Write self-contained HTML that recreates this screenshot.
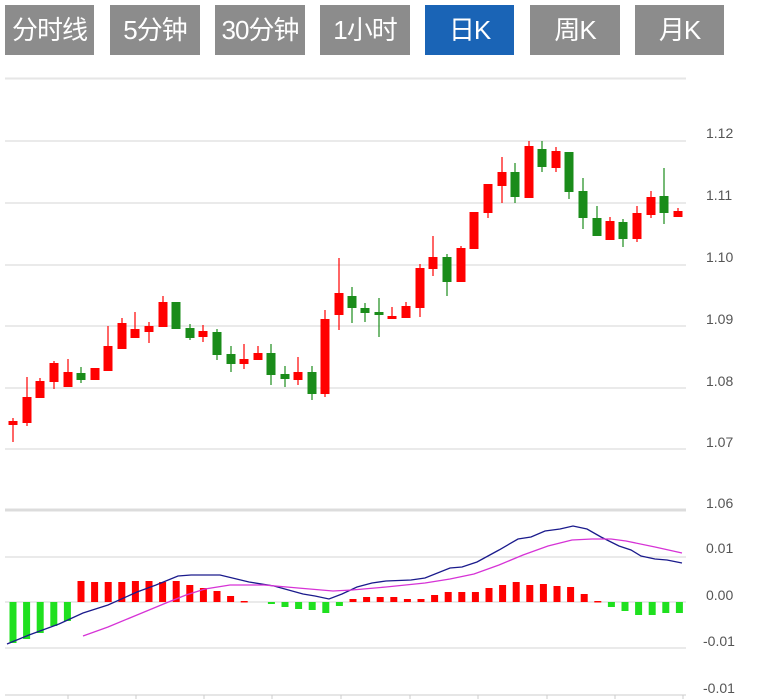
<!DOCTYPE html>
<html><head><meta charset="utf-8"><style>
body{margin:0;background:#fff;width:761px;height:699px;overflow:hidden;position:relative;font-family:"Liberation Sans","Noto Sans CJK SC",sans-serif}
.b{position:absolute;top:5px;height:50px;background:#8c8c8c;color:#fff;font-size:26px;line-height:50px;text-align:center;letter-spacing:-1px}
.b.on{background:#1a64b6}
svg{position:absolute;left:0;top:0}
</style></head><body>
<div class="b" style="left:5px;width:89px">分时线</div>
<div class="b" style="left:110px;width:90px">5分钟</div>
<div class="b" style="left:215px;width:90px">30分钟</div>
<div class="b" style="left:320px;width:90px">1小时</div>
<div class="b on" style="left:425px;width:89px">日K</div>
<div class="b" style="left:530px;width:90px">周K</div>
<div class="b" style="left:635px;width:89px">月K</div>
<svg id="s" width="761" height="699" xmlns="http://www.w3.org/2000/svg"></svg>
<script>
var s='';
s+='<line x1="5" y1="78.5" x2="686" y2="78.5" stroke="#e6e6e6" stroke-width="2"/>';
[141,203,265,326,388,449].forEach(function(y){s+='<line x1="5" y1="'+y+'" x2="686" y2="'+y+'" stroke="#d4d4d4" stroke-width="1"/>';});
s+='<line x1="5" y1="510" x2="686" y2="510" stroke="#dcdcdc" stroke-width="3"/>';
[557,602,648].forEach(function(y){s+='<line x1="5" y1="'+y+'" x2="686" y2="'+y+'" stroke="#d4d4d4" stroke-width="1"/>';});
s+='<line x1="5" y1="695" x2="686" y2="695" stroke="#ccc" stroke-width="1"/>';
[68,136,204,272,341,410,478,547,615,683].forEach(function(x){s+='<line x1="'+x+'" y1="695" x2="'+x+'" y2="699" stroke="#ccc"/>';});
[['1.12',138],['1.11',200],['1.10',262],['1.09',324],['1.08',386],['1.07',447],['1.06',508],['0.01',553],['0.00',600],['-0.01',646],['-0.01',693]].forEach(function(l){
s+='<text x="'+(l[0][0]=='-'?703:706)+'" y="'+l[1]+'" font-size="14" fill="#555" font-family="Liberation Sans,sans-serif">'+l[0]+'</text>';});
// candles: [x, bodyTop, bodyBot, wickTop, wickBot, red?]
var c=[[13,421,425,418,442,1],[27,397,423,377,426,1],[40,381,398,378,398,1],[54,363,382,361,389,1],[68,372,387,359,387,1],[81,373,380,367,383,0],[95,368,380,368,380,1],[108,346,371,326,371,1],[122,323,349,318,349,1],[135,329,338,312,338,1],[149,326,332,322,343,1],[163,302,327,296,327,1],[176,302,329,302,329,0],[190,328,338,324,340,0],[203,331,337,325,342,1],[217,332,355,329,360,0],[231,354,364,346,372,0],[244,359,364,344,369,1],[258,353,360,346,360,1],[271,353,375,344,385,0],[285,374,379,366,387,0],[298,372,380,357,385,1],[312,372,394,366,400,0],[325,319,394,310,397,1],[339,293,315,258,330,1],[352,296,308,287,323,0],[365,308,313,303,322,0],[379,312,315,298,337,0],[392,316,319,307,319,1],[406,306,318,302,318,1],[420,268,308,264,317,1],[433,257,269,236,276,1],[447,257,282,254,296,0],[461,248,282,246,282,1],[474,212,249,212,249,1],[488,184,213,184,218,1],[502,172,186,157,203,1],[515,172,197,163,203,0],[529,146,198,141,198,1],[542,149,167,141,172,0],[556,151,168,147,172,1],[569,152,192,152,199,0],[583,191,218,178,229,0],[597,218,236,206,236,0],[610,221,240,217,240,1],[623,222,239,219,247,0],[637,213,239,206,242,1],[651,197,215,191,218,1],[664,196,213,168,224,0],[678,211,217,208,217,1]];
c.forEach(function(k){var col=k[5]?'#f00':'#1a8c1a';
s+='<line x1="'+k[0]+'" y1="'+k[3]+'" x2="'+k[0]+'" y2="'+k[4]+'" stroke="'+col+'" stroke-width="1.2"/>';
s+='<rect x="'+(k[0]-4.5)+'" y="'+k[1]+'" width="9" height="'+Math.max(2,k[2]-k[1])+'" fill="'+col+'"/>';});
// histogram tops
var h=[643,639,633,626,621,581,582,582,582,581,581,582,581,585,588,591,596,601,602,604,607,609,610,613,606,599,597,597,597,599,599,595,592,592,592,588,585,582,585,584,586,587,594,601,607,611,615,615,613,613];
h.forEach(function(y,i){var x=13+13.6*i;if(Math.abs(y-602)<0.5)return;var t=Math.min(y,602),hh=Math.abs(y-602);
s+='<rect x="'+(x-3.5)+'" y="'+t+'" width="7" height="'+Math.max(1.5,hh)+'" fill="'+(y<602?'#f00':'#1fe01f')+'"/>';});
s+='<polyline fill="none" stroke="#1a1a8c" stroke-width="1.3" points="7,644 29,635 59,624 83,613 108,605 137,592 156,585 178,576 191,575 220,575 249,582 274,586 303,594 315,596 329,599 342,594 357,587 372,583 386,581 411,580 425,578 450,568 462,567 477,562 499,550 518,539 531,537 545,531 560,529 573,526 587,529 601,537 619,546 631,550 641,556 655,559 667,560 682,563"/>';
s+='<polyline fill="none" stroke="#d633d6" stroke-width="1.3" points="83,636 108,627 137,615 166,603 186,595 205,589 230,585 264,585 298,588 333,591 352,590 386,587 425,583 450,579 474,574 499,565 523,555 548,546 572,540 592,539 611,539 626,541 655,547 682,553"/>';
document.getElementById('s').innerHTML=s;
</script>
</body></html>
